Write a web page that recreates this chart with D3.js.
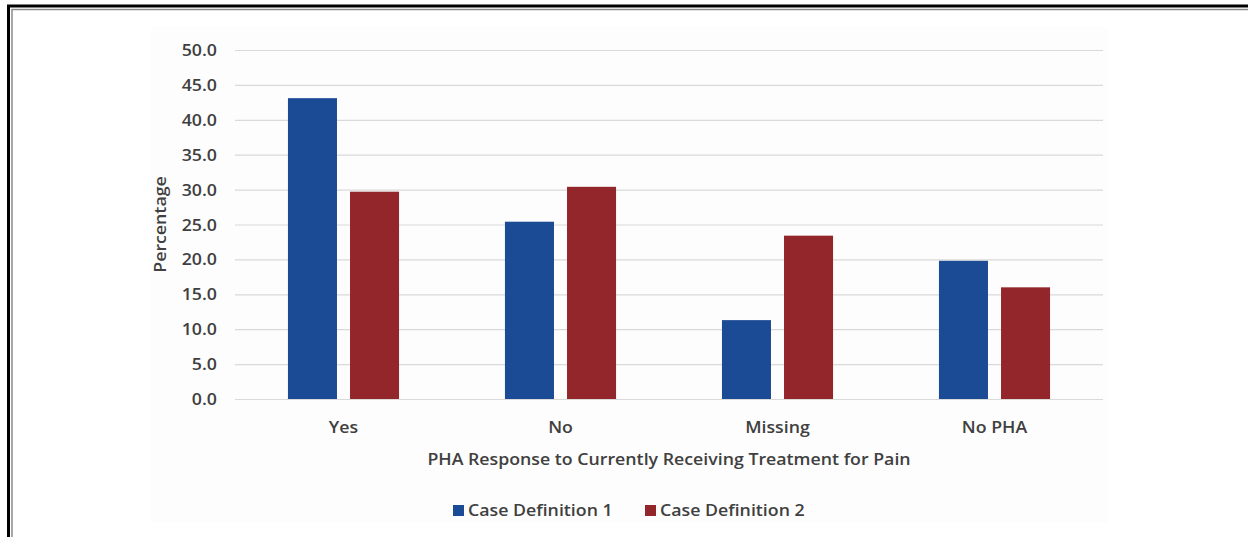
<!DOCTYPE html>
<html>
<head>
<meta charset="utf-8">
<script src="https://cdn.jsdelivr.net/npm/d3@7/dist/d3.min.js"></script>
<style>
  html, body { margin: 0; padding: 0; background: #ffffff; }
  svg { display: block; }
  text { font-family: "Open Sans", "Noto Sans", sans-serif; fill: #404040; }
</style>
</head>
<body>
<svg id="chart" width="1248" height="537"></svg>
<script>
// Share of cases by PHA response to "currently receiving treatment for pain"
const categories = ["Yes", "No", "Missing", "No PHA"];
const seriesNames = ["Case Definition 1", "Case Definition 2"];
const caseDef1 = [43.1, 25.4, 11.3, 19.8];
const caseDef2 = [29.7, 30.4, 23.4, 16.0];
const yTicks = [0, 5, 10, 15, 20, 25, 30, 35, 40, 45, 50];
const xTitle = "PHA Response to Currently Receiving Treatment for Pain";
const yTitle = "Percentage";

const colors = ["#1c4b95", "#93262b"];
const textStretch = 1.11;

const svg = d3.select("#chart");

// page frame: heavy outer rule with a thin inner rule
svg.append("rect").attr("x", 8.5).attr("y", 6).attr("width", 1260).attr("height", 560)
  .attr("fill", "none").attr("stroke", "#000").attr("stroke-width", 3);
svg.append("rect").attr("x", 12).attr("y", 9.5).attr("width", 1260).attr("height", 560)
  .attr("fill", "none").attr("stroke", "#8a8a8a").attr("stroke-width", 1.5);

// chart area
svg.append("rect").attr("x", 151).attr("y", 27).attr("width", 957).attr("height", 496)
  .attr("fill", "#fdfdfd");

const plot = { left: 235, right: 1103, top: 50, bottom: 399 };

const x = d3.scaleBand().domain(categories)
  .range([plot.left, plot.right]).paddingInner(0.488).paddingOuter(0.244);
const xSub = d3.scaleBand().domain(seriesNames)
  .range([0, x.bandwidth()]).paddingInner(0.21).paddingOuter(0);
const y = d3.scaleLinear().domain([0, 50]).range([plot.bottom, plot.top]);

function label(parent, tx, ty, str, anchor, size, rotate) {
  const g = parent.append("g")
    .attr("transform", `translate(${tx},${ty})` + (rotate ? ` rotate(${rotate})` : "") + ` scale(${textStretch},1)`);
  g.append("text").attr("text-anchor", anchor).attr("font-size", size)
    .attr("font-weight", 600).text(str);
  return g;
}

// gridlines + y tick labels via axis
const yAxis = d3.axisLeft(y).tickValues(yTicks).tickFormat(d3.format(".1f"))
  .tickSize(-(plot.right - plot.left)).tickPadding(18);
const gy = svg.append("g").attr("transform", `translate(${plot.left},0)`).call(yAxis);
gy.select(".domain").remove();
gy.selectAll(".tick line").attr("stroke", "#d9d9d9").attr("stroke-width", 1.2);
gy.selectAll(".tick text").remove();
gy.selectAll(".tick").each(function(d) {
  label(d3.select(this), -18, 5.5, d3.format(".1f")(d), "end", 16);
});

// bars
const seriesValues = [caseDef1, caseDef2];
seriesValues.forEach((vals, si) => {
  svg.append("g").selectAll("rect").data(vals).join("rect")
    .attr("x", (d, i) => x(categories[i]) + xSub(seriesNames[si]))
    .attr("y", d => y(d))
    .attr("width", xSub.bandwidth())
    .attr("height", d => y(0) - y(d))
    .attr("fill", colors[si]);
});

// category labels
categories.forEach(c => {
  label(svg, x(c) + x.bandwidth() / 2, 433, c, "middle", 16);
});

// axis titles
label(svg, (plot.left + plot.right) / 2, 465, xTitle, "middle", 16);
label(svg, 166, (plot.top + plot.bottom) / 2, yTitle, "middle", 16, -90);

// legend
const legendItems = [{ name: seriesNames[0], x: 453 }, { name: seriesNames[1], x: 645 }];
legendItems.forEach((it, i) => {
  svg.append("rect").attr("x", it.x).attr("y", 505).attr("width", 11).attr("height", 11)
    .attr("fill", colors[i]);
  label(svg, it.x + 15, 516, it.name, "start", 16);
});
</script>
</body>
</html>
